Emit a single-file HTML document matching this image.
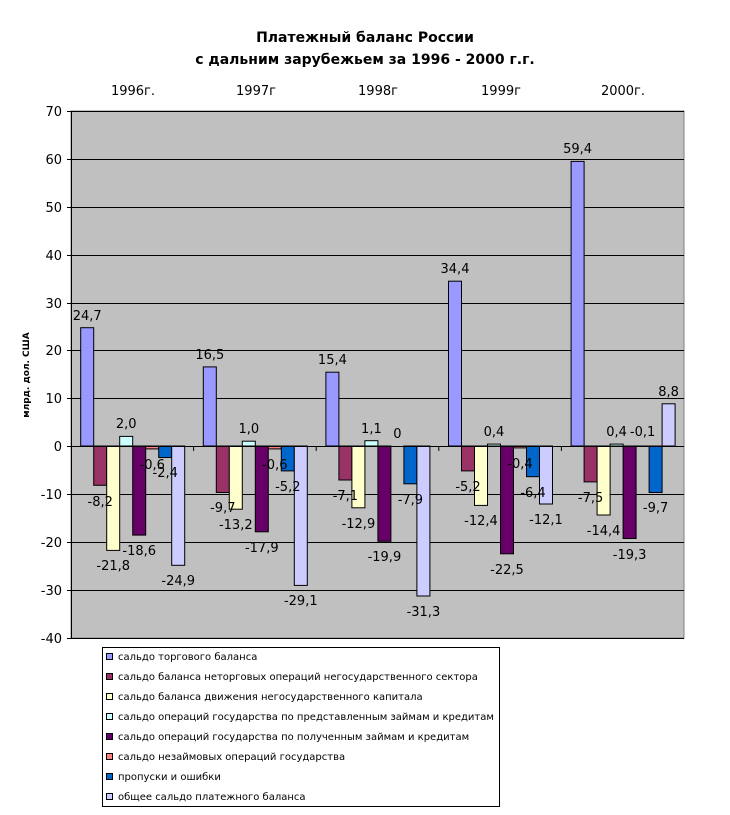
<!DOCTYPE html>
<html><head><meta charset="utf-8"><style>
html,body{margin:0;padding:0;background:#fff;}
svg{display:block;}
text{font-family:"DejaVu Sans","Liberation Sans",sans-serif;}
.v{font-size:13px;text-anchor:middle;fill:#000;}
.t{font-size:13px;text-anchor:end;fill:#000;}
.l{font-size:10px;fill:#000;}
</style></head><body>
<svg width="730" height="815" viewBox="0 0 730 815" xmlns="http://www.w3.org/2000/svg">
<rect width="730" height="815" fill="#fff"/>
<text x="365" y="42" text-anchor="middle" font-size="14" font-weight="bold">Платежный баланс России</text>
<text x="365" y="64" text-anchor="middle" font-size="14" font-weight="bold">с дальним зарубежьем за 1996 - 2000 г.г.</text>
<g font-size="13" text-anchor="middle">
<text x="133" y="95">1996г.</text><text x="256" y="95">1997г</text><text x="378" y="95">1998г</text><text x="501" y="95">1999г</text><text x="623" y="95">2000г.</text>
</g>
<rect x="71" y="111" width="613" height="527" fill="#C0C0C0" stroke="#808080"/>
<g stroke="#000" stroke-width="1">
<line x1="71" y1="111.5" x2="684" y2="111.5"/><line x1="71" y1="159.5" x2="684" y2="159.5"/><line x1="71" y1="207.5" x2="684" y2="207.5"/><line x1="71" y1="255.5" x2="684" y2="255.5"/><line x1="71" y1="303.5" x2="684" y2="303.5"/><line x1="71" y1="350.5" x2="684" y2="350.5"/><line x1="71" y1="398.5" x2="684" y2="398.5"/><line x1="71" y1="494.5" x2="684" y2="494.5"/><line x1="71" y1="542.5" x2="684" y2="542.5"/><line x1="71" y1="590.5" x2="684" y2="590.5"/><line x1="71" y1="638.5" x2="684" y2="638.5"/>
<line x1="71.5" y1="111" x2="71.5" y2="638"/>
<line x1="67" y1="111.5" x2="71" y2="111.5"/><line x1="67" y1="159.5" x2="71" y2="159.5"/><line x1="67" y1="207.5" x2="71" y2="207.5"/><line x1="67" y1="255.5" x2="71" y2="255.5"/><line x1="67" y1="303.5" x2="71" y2="303.5"/><line x1="67" y1="350.5" x2="71" y2="350.5"/><line x1="67" y1="398.5" x2="71" y2="398.5"/><line x1="67" y1="446.5" x2="71" y2="446.5"/><line x1="67" y1="494.5" x2="71" y2="494.5"/><line x1="67" y1="542.5" x2="71" y2="542.5"/><line x1="67" y1="590.5" x2="71" y2="590.5"/><line x1="67" y1="638.5" x2="71" y2="638.5"/>
<line x1="193.6" y1="446" x2="193.6" y2="451"/><line x1="316.2" y1="446" x2="316.2" y2="451"/><line x1="438.8" y1="446" x2="438.8" y2="451"/><line x1="561.4" y1="446" x2="561.4" y2="451"/>
</g>
<g class="t">
<text x="62" y="116">70</text><text x="62" y="164">60</text><text x="62" y="212">50</text><text x="62" y="260">40</text><text x="62" y="308">30</text><text x="62" y="355">20</text><text x="62" y="403">10</text><text x="62" y="451">0</text><text x="62" y="499">-10</text><text x="62" y="547">-20</text><text x="62" y="595">-30</text><text x="62" y="643">-40</text>
</g>
<text transform="translate(29,375) rotate(-90)" text-anchor="middle" font-size="9" font-weight="bold">млрд. дол. США</text>
<g stroke="#000" stroke-width="1">
<!-- 1996 -->
<rect x="80.7" y="327.7" width="13" height="118.3" fill="#9999FF"/>
<rect x="93.7" y="446" width="13" height="39.3" fill="#993366"/>
<rect x="106.7" y="446" width="13" height="104.4" fill="#FFFFCC"/>
<rect x="119.7" y="436.4" width="13" height="9.6" fill="#CCFFFF"/>
<rect x="132.7" y="446" width="13" height="89.1" fill="#660066"/>
<rect x="145.7" y="446" width="13" height="2.9" fill="#FF8080"/>
<rect x="158.7" y="446" width="13" height="11.5" fill="#0066CC"/>
<rect x="171.7" y="446" width="13" height="119.3" fill="#CCCCFF"/>
<!-- 1997 -->
<rect x="203.3" y="366.9" width="13" height="79.1" fill="#9999FF"/>
<rect x="216.3" y="446" width="13" height="46.5" fill="#993366"/>
<rect x="229.3" y="446" width="13" height="63.2" fill="#FFFFCC"/>
<rect x="242.3" y="441.2" width="13" height="4.8" fill="#CCFFFF"/>
<rect x="255.3" y="446" width="13" height="85.8" fill="#660066"/>
<rect x="268.3" y="446" width="13" height="2.9" fill="#FF8080"/>
<rect x="281.3" y="446" width="13" height="24.9" fill="#0066CC"/>
<rect x="294.3" y="446" width="13" height="139.4" fill="#CCCCFF"/>
<!-- 1998 -->
<rect x="325.9" y="372.2" width="13" height="73.8" fill="#9999FF"/>
<rect x="338.9" y="446" width="13" height="34" fill="#993366"/>
<rect x="351.9" y="446" width="13" height="61.8" fill="#FFFFCC"/>
<rect x="364.9" y="440.7" width="13" height="5.3" fill="#CCFFFF"/>
<rect x="377.9" y="446" width="13" height="95.3" fill="#660066"/>
<rect x="403.9" y="446" width="13" height="37.8" fill="#0066CC"/>
<rect x="416.9" y="446" width="13" height="150" fill="#CCCCFF"/>
<!-- 1999 -->
<rect x="448.5" y="281.2" width="13" height="164.8" fill="#9999FF"/>
<rect x="461.5" y="446" width="13" height="24.9" fill="#993366"/>
<rect x="474.5" y="446" width="13" height="59.4" fill="#FFFFCC"/>
<rect x="487.5" y="444.1" width="13" height="1.9" fill="#CCFFFF"/>
<rect x="500.5" y="446" width="13" height="107.8" fill="#660066"/>
<rect x="513.5" y="446" width="13" height="1.9" fill="#FF8080"/>
<rect x="526.5" y="446" width="13" height="30.7" fill="#0066CC"/>
<rect x="539.5" y="446" width="13" height="58" fill="#CCCCFF"/>
<!-- 2000 -->
<rect x="571.1" y="161.4" width="13" height="284.6" fill="#9999FF"/>
<rect x="584.1" y="446" width="13" height="35.9" fill="#993366"/>
<rect x="597.1" y="446" width="13" height="69" fill="#FFFFCC"/>
<rect x="610.1" y="444.1" width="13" height="1.9" fill="#CCFFFF"/>
<rect x="623.1" y="446" width="13" height="92.5" fill="#660066"/>
<rect x="636.1" y="446" width="13" height="0.5" fill="#FF8080"/>
<rect x="649.1" y="446" width="13" height="46.5" fill="#0066CC"/>
<rect x="662.1" y="403.8" width="13" height="42.2" fill="#CCCCFF"/>
<line x1="71" y1="446.5" x2="684" y2="446.5"/>
</g>
<g class="v">
<text x="87.2" y="320">24,7</text><text x="100.2" y="506">-8,2</text><text x="113.2" y="570">-21,8</text><text x="126.2" y="428">2,0</text><text x="139.2" y="555">-18,6</text><text x="152.2" y="469">-0,6</text><text x="165.2" y="477">-2,4</text><text x="178.2" y="585">-24,9</text>
<text x="209.8" y="359">16,5</text><text x="222.8" y="512">-9,7</text><text x="235.8" y="529">-13,2</text><text x="248.8" y="433">1,0</text><text x="261.8" y="552">-17,9</text><text x="274.8" y="469">-0,6</text><text x="287.8" y="491">-5,2</text><text x="300.8" y="605">-29,1</text>
<text x="332.4" y="364">15,4</text><text x="345.4" y="500">-7,1</text><text x="358.4" y="528">-12,9</text><text x="371.4" y="433">1,1</text><text x="384.4" y="561">-19,9</text><text x="397.4" y="438">0</text><text x="410.4" y="504">-7,9</text><text x="423.4" y="616">-31,3</text>
<text x="455" y="273">34,4</text><text x="468" y="491">-5,2</text><text x="481" y="525">-12,4</text><text x="494" y="436">0,4</text><text x="507" y="574">-22,5</text><text x="520" y="468">-0,4</text><text x="533" y="497">-6,4</text><text x="546" y="524">-12,1</text>
<text x="577.6" y="153">59,4</text><text x="590.6" y="502">-7,5</text><text x="603.6" y="535">-14,4</text><text x="616.6" y="436">0,4</text><text x="629.6" y="559">-19,3</text><text x="642.6" y="436">-0,1</text><text x="655.6" y="512">-9,7</text><text x="668.6" y="396">8,8</text>
</g>
<rect x="102.5" y="647.5" width="397" height="159" fill="#fff" stroke="#000"/>
<g stroke="#000" stroke-width="1">
<rect x="106.5" y="653.5" width="6" height="6" fill="#9999FF"/>
<rect x="106.5" y="673.5" width="6" height="6" fill="#993366"/>
<rect x="106.5" y="693.5" width="6" height="6" fill="#FFFFCC"/>
<rect x="106.5" y="713.5" width="6" height="6" fill="#CCFFFF"/>
<rect x="106.5" y="733.5" width="6" height="6" fill="#660066"/>
<rect x="106.5" y="753.5" width="6" height="6" fill="#FF8080"/>
<rect x="106.5" y="773.5" width="6" height="6" fill="#0066CC"/>
<rect x="106.5" y="793.5" width="6" height="6" fill="#CCCCFF"/>
</g>
<g class="l">
<text x="118" y="660">сальдо торгового баланса</text>
<text x="118" y="680">сальдо баланса неторговых операций негосударственного сектора</text>
<text x="118" y="700">сальдо баланса движения негосударственного капитала</text>
<text x="118" y="720">сальдо операций государства по представленным займам и кредитам</text>
<text x="118" y="740">сальдо операций государства по полученным займам и кредитам</text>
<text x="118" y="760">сальдо незаймовых операций государства</text>
<text x="118" y="780">пропуски и ошибки</text>
<text x="118" y="800">общее сальдо платежного баланса</text>
</g>
</svg>
</body></html>
